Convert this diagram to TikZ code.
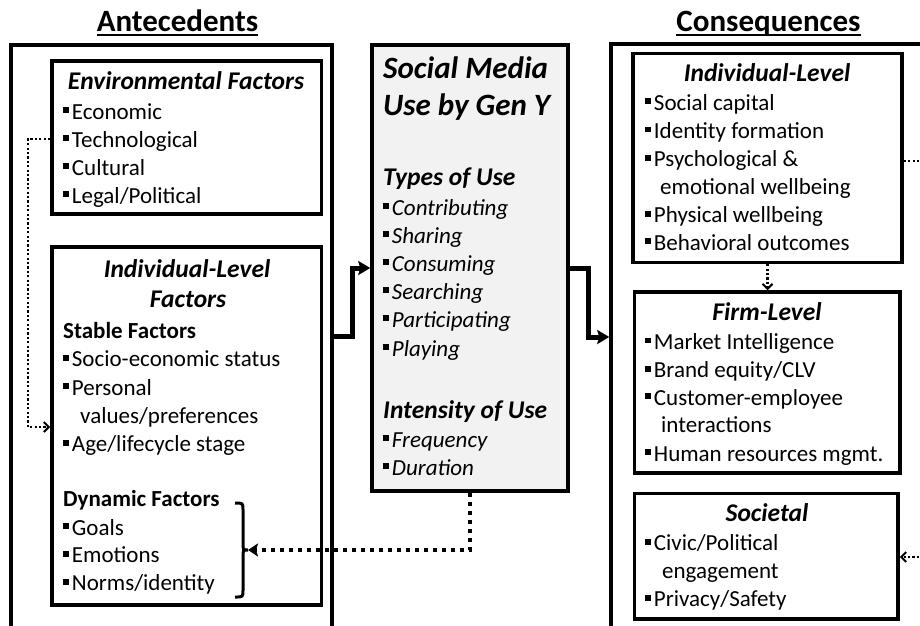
\documentclass[tikz,border=0pt]{standalone}
\usepackage{fontspec}
\setmainfont{Carlito}
\usetikzlibrary{arrows.meta,calc}
\definecolor{midfill}{HTML}{F2F2F2}
\newcommand\bul{\rule[0.26em]{0.25em}{0.25em}\hspace{0.13em}}
\begin{document}
\begin{tikzpicture}[x=1pt,y=-1pt,
  box/.style={draw, line width=3.5pt, rectangle, inner sep=0pt},
  txt/.style={anchor=base west, inner sep=0pt, font=\fontsize{23pt}{28pt}\selectfont},
  itxt/.style={txt, font=\fontsize{23pt}{28pt}\selectfont\itshape},
  btxt/.style={txt, font=\fontsize{23pt}{28pt}\selectfont\bfseries},
  ttl/.style={anchor=base, inner sep=0pt, font=\fontsize{25.5pt}{31pt}\selectfont\bfseries\itshape},
  subttl/.style={anchor=base west, inner sep=0pt, font=\fontsize{25.5pt}{31pt}\selectfont\bfseries\itshape},
  bigttl/.style={anchor=base west, inner sep=0pt, font=\fontsize{31pt}{37pt}\selectfont\bfseries\itshape},
  head/.style={anchor=base, inner sep=0pt, font=\fontsize{31pt}{36pt}\selectfont\bfseries},
  thickconn/.style={line width=5pt, -{Stealth[length=12pt,width=14pt,inset=2pt]}},
  thindot/.style={line width=2.2pt, dash pattern=on 2.2pt off 2.2pt, -{Straight Barb[length=5pt,width=10pt,line width=2pt]}},
  thickdot/.style={line width=4.5pt, dash pattern=on 4.5pt off 4.5pt, -{Stealth[length=10pt,width=13pt,inset=2pt]}},
]
\useasboundingbox (0,0) rectangle (920,625);
\clip (0,0) rectangle (920,625);

% headings
\node[head] (ante) at (177.5,31.5) {Antecedents};
\node[head] (cons) at (768.5,31.5) {Consequences};
\draw[line width=2pt] ([yshift=-3pt]ante.base west) -- ([yshift=-3pt]ante.base east);
\draw[line width=2pt] ([yshift=-3pt]cons.base west) -- ([yshift=-3pt]cons.base east);

% outer boxes (open at the bottom, cut by the page)
\node[box, minimum width=321pt, minimum height=680pt] (antebox) at (171.5,385) {};
\node[box, minimum width=400pt, minimum height=680pt] (consbox) at (811,384) {};

% antecedent boxes
\node[box, fill=white, minimum width=269.5pt, minimum height=153pt] (env) at (186.75,137.5) {};
\node[box, fill=white, minimum width=269.5pt, minimum height=358pt] (indL) at (186.75,426) {};
% middle box
\node[box, fill=midfill, minimum width=196pt, minimum height=446pt] (mid) at (470,268) {};
% consequence boxes
\node[box, fill=white, minimum width=269pt, minimum height=209pt] (indR) at (767.5,158) {};
\node[box, fill=white, minimum width=265.5pt, minimum height=181pt] (firm) at (767.25,382.5) {};
\node[box, fill=white, minimum width=263.5pt, minimum height=125.5pt] (soc) at (766.25,556.25) {};

% environmental factors
\node[ttl] (envt) at (186,89) {Environmental Factors};
\node[txt] (env1) at (63,119) {\bul Economic};
\node[txt] (env2) at (63,147) {\bul Technological};
\node[txt] (env3) at (63,175) {\bul Cultural};
\node[txt] (env4) at (63,203) {\bul Legal/Political};

% individual-level factors
\node[ttl] (indLt1) at (187,277) {Individual-Level};
\node[ttl] (indLt2) at (188,307) {Factors};
\node[btxt] (stab) at (63,338) {Stable Factors};
\node[txt] (st1) at (63,366.7) {\bul Socio-economic status};
\node[txt] (st2) at (63,395) {\bul Personal};
\node[txt] (st2b) at (80,423) {values/preferences};
\node[txt] (st3) at (63,451.7) {\bul Age/lifecycle stage};
\node[btxt] (dyn) at (63,506.7) {Dynamic Factors};
\node[txt] (dy1) at (63,535) {\bul Goals};
\node[txt] (dy2) at (63,562.7) {\bul Emotions};
\node[txt] (dy3) at (63,590.7) {\bul Norms/identity};

% middle
\node[bigttl] (midt1) at (383,78.3) {Social Media};
\node[bigttl] (midt2) at (383,115) {Use by Gen Y};
\node[subttl] (types) at (383,185) {Types of Use};
\node[itxt] (ty1) at (383,215) {\bul Contributing};
\node[itxt] (ty2) at (383,243) {\bul Sharing};
\node[itxt] (ty3) at (383,271) {\bul Consuming};
\node[itxt] (ty4) at (383,299) {\bul Searching};
\node[itxt] (ty5) at (383,327) {\bul Participating};
\node[itxt] (ty6) at (383,356) {\bul Playing};
\node[subttl] (inten) at (383,418.5) {Intensity of Use};
\node[itxt] (in1) at (383,447) {\bul Frequency};
\node[itxt] (in2) at (383,475) {\bul Duration};

% individual-level consequences
\node[ttl] (indRt) at (767,81.7) {Individual-Level};
\node[txt] (ir1) at (645,110) {\bul Social capital};
\node[txt] (ir2) at (645,138.3) {\bul Identity formation};
\node[txt] (ir3) at (645,166.7) {\bul Psychological \&};
\node[txt] (ir3b) at (660,194.3) {emotional wellbeing};
\node[txt] (ir4) at (645,222.7) {\bul Physical wellbeing};
\node[txt] (ir5) at (645,250) {\bul Behavioral outcomes};

% firm-level
\node[ttl] (firmt) at (767,320) {Firm-Level};
\node[txt] (fi1) at (645,349.3) {\bul Market Intelligence};
\node[txt] (fi2) at (645,377.7) {\bul Brand equity/CLV};
\node[txt] (fi3) at (645,405) {\bul Customer-employee};
\node[txt] (fi3b) at (661,432.7) {interactions};
\node[txt] (fi4) at (645,461) {\bul Human resources mgmt.};

% societal
\node[ttl] (soct) at (767,521.7) {Societal};
\node[txt] (so1) at (645,550.7) {\bul Civic/Political};
\node[txt] (so1b) at (662,578.3) {engagement};
\node[txt] (so2) at (645,606.7) {\bul Privacy/Safety};

% bracket around dynamic factors
\coordinate (br) at (248,550);
\draw[line width=3pt] (235,503) .. controls (243,503) .. (243,510) -- (243,543)
  .. controls (243,550) .. (br) .. controls (243,550) .. (243,557) -- (243,590)
  .. controls (243,597) .. (235,597);

% connectors
\coordinate (j1) at (352,336);
\coordinate (j2) at (352,268);
\coordinate (j3) at (588,268);
\coordinate (j4) at (588,337);
\draw[thickconn] (antebox.east |- j1) -- (j1) -- (j2) -- (mid.west |- j2);
\draw[thickconn] (mid.east |- j3) -- (j3) -- (j4) -- (consbox.west |- j4);

\coordinate (d1) at (28,139);
\coordinate (d2) at (28,427);
\draw[thindot] (env.west |- d1) -- (d1) -- (d2) -- (indL.west |- d2);

\coordinate (d3) at (470,550);
\draw[thickdot] (mid.south) -- (d3) -- (br);

\draw[thindot] (indR.south) -- (indR.south |- firm.north);

\coordinate (r1) at (940,161);
\coordinate (r2) at (940,557);
\draw[thindot] (indR.east |- r1) -- (r1) -- (r2) -- (soc.east |- r2);
\end{tikzpicture}
\end{document}
